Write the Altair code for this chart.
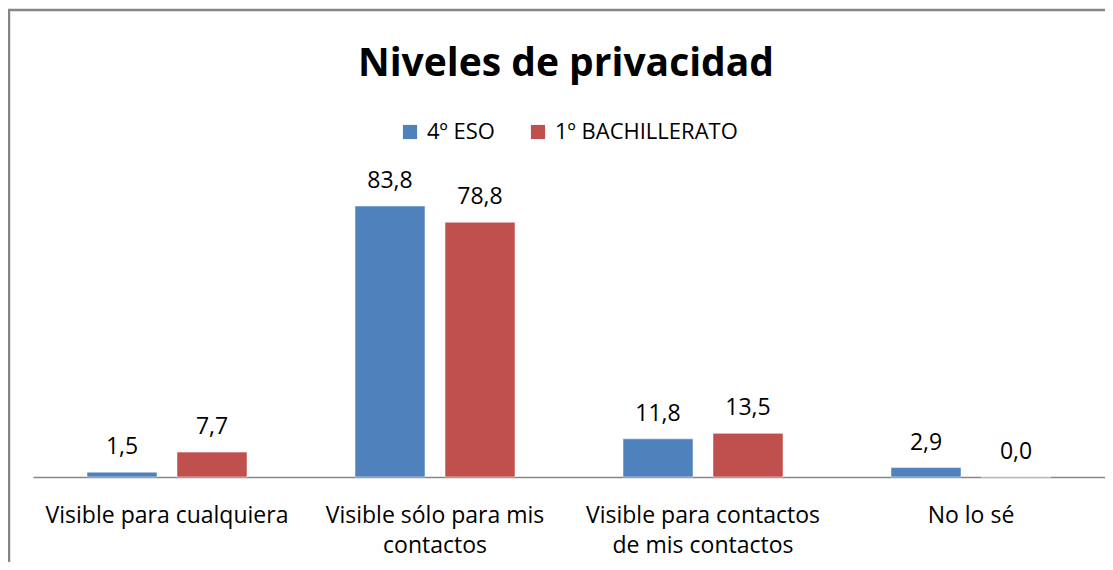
import altair as alt
import pandas as pd

categories = [
    "Visible para cualquiera",
    "Visible sólo para mis\ncontactos",
    "Visible para contactos\nde mis contactos",
    "No lo sé",
]
series = ["4º ESO", "1º BACHILLERATO"]
eso = [1.5, 83.8, 11.8, 2.9]
bach = [7.7, 78.8, 13.5, 0.0]
colors = ["#4F81BD", "#C0504D"]
title_text = "Niveles de privacidad"

rows = []
for c, a, b in zip(categories, eso, bach):
    rows.append({"cat": c, "serie": series[0], "valor": a})
    rows.append({"cat": c, "serie": series[1], "valor": b})
df = pd.DataFrame(rows)

FONT = "Open Sans"
W, H = 1072, 291

x_enc = alt.X("cat:N", sort=categories,
              scale=alt.Scale(paddingInner=0, paddingOuter=0),
              axis=alt.Axis(title=None, labelAngle=0, ticks=False, grid=False,
                            domainColor="#868686", domainWidth=1.5,
                            labelFont=FONT, labelFontSize=23, labelColor="#000000",
                            labelPadding=27, labelLineHeight=30, labelLimit=0,
                            labelExpr="split(datum.label, '\\n')"))
xoff = alt.XOffset("serie:N", sort=series,
                   scale=alt.Scale(paddingInner=2/9, paddingOuter=0.6))
y_enc = alt.Y("valor:Q", scale=alt.Scale(domain=[0, 90], nice=False, zero=True),
              axis=None)

base = alt.Chart(df)

bars = base.mark_bar(stroke="#ffffff", strokeOpacity=0.5, strokeWidth=1).encode(
    x=x_enc,
    xOffset=xoff,
    y=y_enc,
    color=alt.Color("serie:N", sort=series,
                    scale=alt.Scale(domain=series, range=colors),
                    legend=alt.Legend(title=None, orient="none", direction="horizontal",
                                      legendX=366, legendY=-65,
                                      symbolType="square", symbolSize=200,
                                      symbolStrokeWidth=0,
                                      labelFont=FONT, labelFontSize=22, labelLimit=0,
                                      labelColor="#000000", labelOffset=6,
                                      columnPadding=32)),
)

labels = base.transform_calculate(
    etiqueta="replace(format(datum.valor, '.1f'), '.', ',')"
).mark_text(baseline="alphabetic", dy=-18, font=FONT, fontSize=23, color="#000000").encode(
    x=alt.X("cat:N", sort=categories),
    xOffset=alt.XOffset("serie:N", sort=series),
    y="valor:Q",
    text="etiqueta:N",
)

title = alt.Chart(pd.DataFrame({"t": [title_text]})).mark_text(
    font=FONT, fontSize=39, fontWeight="bold", color="#000000",
    baseline="alphabetic", align="center"
).encode(x=alt.value(533), y=alt.value(-110), text="t:N")

border = alt.Chart(pd.DataFrame({"b": [1]})).mark_rect(
    fill="transparent", stroke="#868686", strokeWidth=2.5
).encode(x=alt.value(-24), x2=alt.value(W + 200), y=alt.value(-176), y2=alt.value(H + 300))

chart = alt.layer(border, bars, labels, title).properties(
    width=W, height=H,
    background="#ffffff",
    padding={"left": 25, "top": 178, "right": 0, "bottom": 85},
    autosize=alt.AutoSizeParams(type="none"),
).configure_view(strokeWidth=0, stroke="transparent")

chart.save("out.html", embed_options={"renderer": "svg", "actions": False})
